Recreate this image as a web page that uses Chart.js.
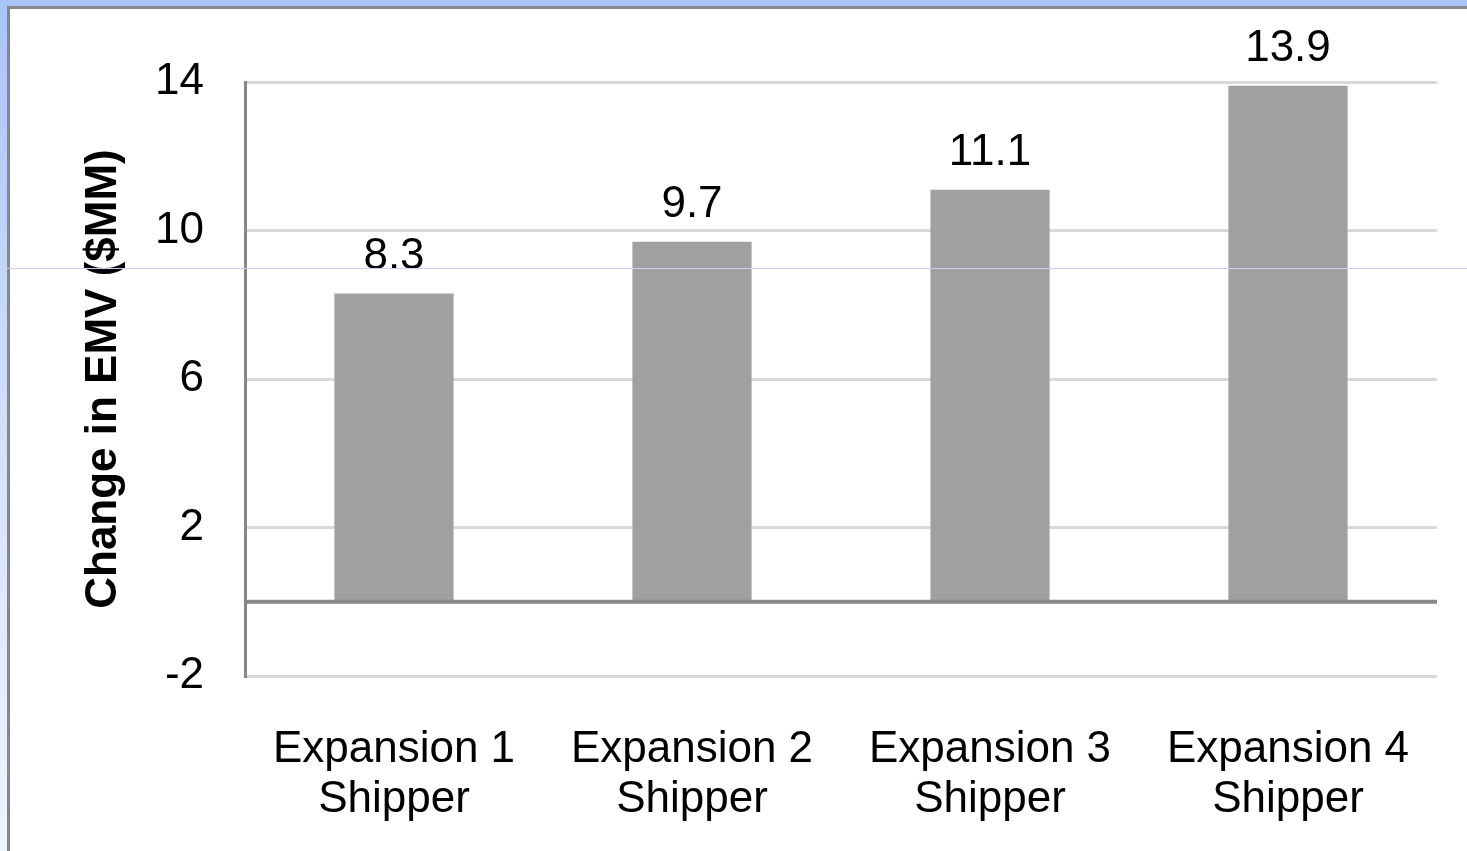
<!DOCTYPE html>
<html>
<head>
<meta charset="utf-8">
<title>Change in EMV</title>
<script src="https://cdn.jsdelivr.net/npm/chart.js@4.4.1/dist/chart.umd.min.js"></script>
<style>
  html, body { margin: 0; padding: 0; width: 1467px; height: 851px; overflow: hidden; }
  body {
    position: relative;
    background: linear-gradient(to bottom, #a9c4f6 0%, #d6e2fb 55%, #f0f4fe 100%);
  }
  #frame {
    position: absolute; left: 7px; top: 6px;
    width: 1460px; height: 845px;
    box-sizing: border-box;
    border-left: 3px solid #878787;
    border-top: 3px solid #878787;
    background: #ffffff;
  }
  #wrap { position: absolute; left: 0; top: 0; width: 1457px; height: 842px; }
  #rule {
    position: absolute; left: 0; top: 268px;
    width: 1467px; height: 1px; background: #c9d1f2;
  }
</style>
</head>
<body>
<div id="frame"><div id="wrap"><canvas id="chart"></canvas></div></div>
<div id="rule"></div>
<script>
// Categories (two-line labels), values in $MM and the value-axis ticks
const categories = [
  ['Expansion 1', 'Shipper'],
  ['Expansion 2', 'Shipper'],
  ['Expansion 3', 'Shipper'],
  ['Expansion 4', 'Shipper']
];
const emvChange = [8.3, 9.7, 11.1, 13.9];
const yTicks = [-2, 2, 6, 10, 14];

const FONT = '"Liberation Sans", Arial, Helvetica, sans-serif';
Chart.defaults.font.family = FONT;
Chart.defaults.color = '#000000';

// Darker baseline at zero
const zeroLine = {
  id: 'zeroLine',
  afterDatasetsDraw(chart) {
    const { ctx, chartArea, scales: { y } } = chart;
    const py = y.getPixelForValue(0);
    ctx.save();
    ctx.strokeStyle = '#878787';
    ctx.lineWidth = 4;
    ctx.beginPath();
    ctx.moveTo(chartArea.left, py);
    ctx.lineTo(chartArea.right, py);
    ctx.stroke();
    ctx.restore();
  }
};

// Value printed above each bar
const valueLabels = {
  id: 'valueLabels',
  afterDatasetsDraw(chart) {
    const { ctx } = chart;
    const meta = chart.getDatasetMeta(0);
    ctx.save();
    ctx.font = '44px ' + FONT;
    ctx.fillStyle = '#000000';
    ctx.textAlign = 'center';
    ctx.textBaseline = 'alphabetic';
    meta.data.forEach((bar, i) => {
      ctx.fillText(emvChange[i].toFixed(1), bar.x, bar.y - 25);
    });
    ctx.restore();
  }
};

new Chart(document.getElementById('chart'), {
  type: 'bar',
  data: {
    labels: categories,
    datasets: [{
      data: emvChange,
      backgroundColor: '#a0a0a0',
      borderWidth: 0,
      barPercentage: 0.4,
      categoryPercentage: 1.0
    }]
  },
  options: {
    responsive: true,
    maintainAspectRatio: false,
    animation: false,
    layout: { padding: { top: 73, right: 30, left: 0, bottom: 0 } },
    plugins: { legend: { display: false }, tooltip: { enabled: false } },
    scales: {
      x: {
        grid: { display: false, drawTicks: false },
        border: { display: false },
        ticks: {
          color: '#000000',
          font: { size: 44, lineHeight: 50 / 44 },
          padding: 49,
          maxRotation: 0,
          autoSkip: false
        },
        afterFit(scale) { scale.height = 175; }
      },
      y: {
        min: yTicks[0],
        max: yTicks[yTicks.length - 1],
        afterBuildTicks(scale) { scale.ticks = yTicks.map(v => ({ value: v })); },
        grid: { color: '#d9d9d9', lineWidth: 3, drawTicks: false },
        border: { color: '#878787', width: 3 },
        ticks: { color: '#000000', font: { size: 44 }, padding: 41 },
        title: {
          display: true,
          text: 'Change in EMV ($MM)',
          color: '#000000',
          font: { size: 44, weight: 'bold' },
          padding: { top: 67, bottom: 0 }
        },
        afterFit(scale) { scale.width = 235; }
      }
    }
  },
  plugins: [zeroLine, valueLabels]
});
</script>
</body>
</html>
